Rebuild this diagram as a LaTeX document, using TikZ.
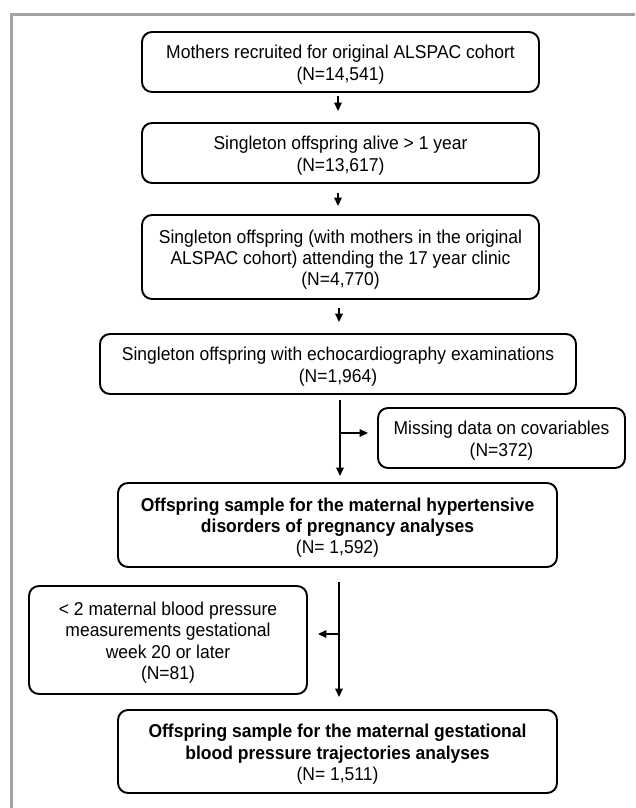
\documentclass[tikz,border=0pt]{standalone}
\usepackage{fontspec}
\setmainfont[FakeStretch=0.94]{Liberation Sans}
\usetikzlibrary{arrows.meta,calc}
\definecolor{framegray}{RGB}{163,163,167}
\newcommand\firstln{\rule{0pt}{19pt}}
\begin{document}
\begin{tikzpicture}[x=1pt,y=-1pt,
  box/.style={draw, line width=1.9pt, rounded corners=10pt, align=center, inner sep=0pt,
    font=\fontsize{18.6}{21.3}\selectfont},
  bbox/.style={box, font=\fontsize{18.6}{21.3}\selectfont\bfseries},
  arr/.style={line width=1.7pt, -{Triangle[width=7.5pt,length=8.5pt]}},
]
\useasboundingbox (0,0) rectangle (635,808);
\draw[line width=3.3pt, framegray] (11.5,808) -- (11.5,14.3) -- (635,14.3);

\node[box, minimum width=397pt, minimum height=60pt] (b1) at (340.5,62)
  {\firstln Mothers recruited for original ALSPAC cohort\\(N=14,541)};
\node[box, minimum width=397pt, minimum height=60pt] (b2) at (340.5,153)
  {\firstln Singleton offspring alive > 1 year\\(N=13,617)};
\node[box, minimum width=397pt, minimum height=84pt] (b3) at (340.5,257)
  {\firstln Singleton offspring (with mothers in the original\\ALSPAC cohort) attending the 17 year clinic\\(N=4,770)};
\node[box, minimum width=476pt, minimum height=60pt] (b4) at (338,364)
  {\firstln Singleton offspring with echocardiography examinations\\(N=1,964)};
\node[box, minimum width=247pt, minimum height=60pt] (b5) at (501.5,438)
  {\firstln Missing data on covariables\\(N=372)};
\node[bbox, minimum width=439pt, minimum height=84pt] (b6) at (337.5,525)
  {\firstln Offspring sample for the maternal hypertensive\\disorders of pregnancy analyses\\\mdseries(N= 1,592)};
\node[box, minimum width=278pt, minimum height=108pt] (b7) at (168,640)
  {\firstln < 2 maternal blood pressure\\measurements gestational\\week 20 or later\\(N=81)};
\node[bbox, minimum width=439pt, minimum height=83pt] (b8) at (337.5,751.5)
  {\firstln Offspring sample for the maternal gestational\\blood pressure trajectories analyses\\\mdseries(N= 1,511)};

\draw[arr, shorten <=3pt, shorten >=11pt] (b1.south -| 338,0) -- (b2.north -| 338,0);
\draw[arr, shorten <=9pt, shorten >=8pt] (b2.south -| 338,0) -- (b3.north -| 338,0);
\draw[arr, shorten <=8pt, shorten >=11pt] (b3.south -| 339,0) -- (b4.north -| 339,0);

\coordinate (c1t) at (340,400);
\coordinate (c1m) at (340,433);
\coordinate (c1b) at (340,476);
\draw[arr] (c1t) -- (c1b);
\draw[arr, shorten >=9pt] (c1m) -- (c1m -| b5.west);

\coordinate (c2t) at (339,582);
\coordinate (c2m) at (339,634);
\coordinate (c2b) at (339,697);
\draw[arr] (c2t) -- (c2b);
\draw[arr, shorten >=10pt] (c2m) -- (c2m -| b7.east);
\end{tikzpicture}
\end{document}
